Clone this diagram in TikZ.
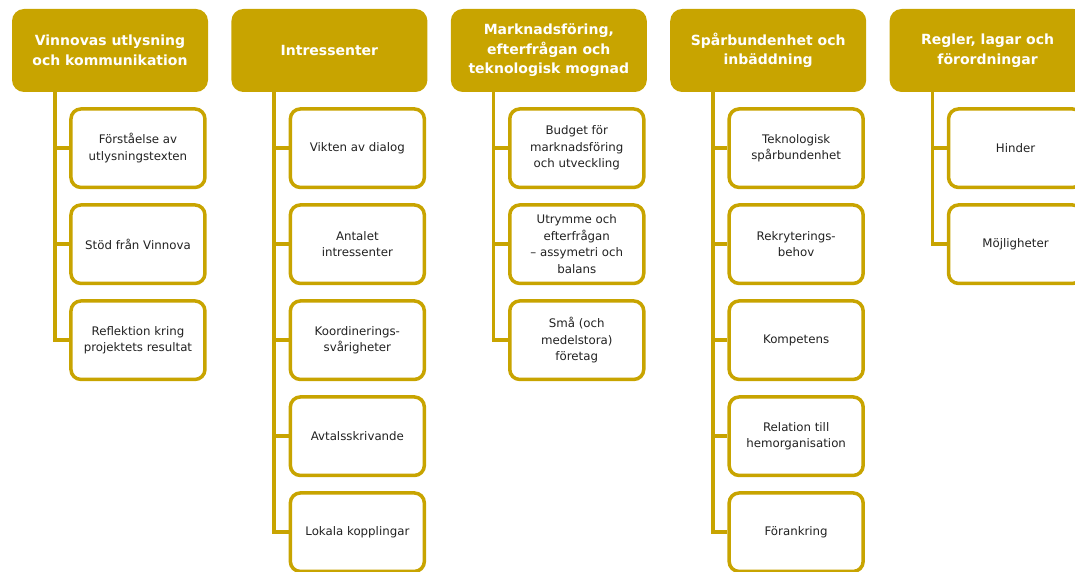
\documentclass[tikz,border=0pt]{standalone}
\usepackage{fontspec}
\setmainfont{DejaVu Sans}
\usetikzlibrary{positioning}
\definecolor{gold}{RGB}{200,164,0}
\definecolor{textgray}{RGB}{34,34,34}

\begin{document}
\begin{tikzpicture}[x=1pt, y=1pt, node distance=14pt,
    head/.style={fill=gold, rounded corners=12pt, text=white, minimum width=196pt, minimum height=83pt,
        align=center, font=\fontsize{14}{19.5}\selectfont\bfseries},
    item/.style={draw=gold, line width=3.5pt, fill=white, rounded corners=10pt, minimum width=134pt,
        minimum height=78.5pt, align=center, text=textgray, font=\fontsize{11.8}{16.5}\selectfont},
    link/.style={draw=gold, line width=3.5pt}]
    \useasboundingbox (0,0) rectangle (1075,-572);
    \clip (0,0) rectangle (1075,-572);

    % Headers
    \node[head] (h1) at (110,-50.5) {Vinnovas utlysning\\och kommunikation};
    \node[head, right=23pt of h1] (h2) {Intressenter};
    \node[head, right=23pt of h2] (h3) {Marknadsföring,\\efterfrågan och\\teknologisk mognad};
    \node[head, right=23pt of h3] (h4) {Spårbundenhet och\\inbäddning};
    \node[head, right=23pt of h4] (h5) {Regler, lagar och\\förordningar};

    % Items
    \node[item, below=15pt of h1.south east, anchor=north east, xshift=-1.5pt] (a1) {Förståelse av\\utlysningstexten};
    \node[item, below=of a1] (a2) {Stöd från Vinnova};
    \node[item, below=of a2] (a3) {Reflektion kring\\projektets resultat};

    \node[item, below=15pt of h2.south east, anchor=north east, xshift=-1.5pt] (b1) {Vikten av dialog};
    \node[item, below=of b1] (b2) {Antalet\\intressenter};
    \node[item, below=of b2] (b3) {Koordinerings-\\svårigheter};
    \node[item, below=of b3] (b4) {Avtalsskrivande};
    \node[item, below=of b4] (b5) {Lokala kopplingar};

    \node[item, below=15pt of h3.south east, anchor=north east, xshift=-1.5pt] (c1) {Budget för\\marknadsföring\\och utveckling};
    \node[item, below=of c1] (c2) {Utrymme och\\efterfrågan\\– assymetri och\\balans};
    \node[item, below=of c2] (c3) {Små (och\\medelstora)\\företag};

    \node[item, below=15pt of h4.south east, anchor=north east, xshift=-1.5pt] (d1) {Teknologisk\\spårbundenhet};
    \node[item, below=of d1] (d2) {Rekryterings-\\behov};
    \node[item, below=of d2] (d3) {Kompetens};
    \node[item, below=of d3] (d4) {Relation till\\hemorganisation};
    \node[item, below=of d4] (d5) {Förankring};

    \node[item, below=15pt of h5.south east, anchor=north east, xshift=-1.5pt] (e1) {Hinder};
    \node[item, below=of e1] (e2) {Möjligheter};

    % Links
    \draw[link] ([xshift=43pt]h1.south west) |- (a1.west);
    \draw[link] ([xshift=43pt]h1.south west) |- (a2.west);
    \draw[link] ([xshift=43pt]h1.south west) |- (a3.west);

    \draw[link] ([xshift=43pt]h2.south west) |- (b1.west);
    \draw[link] ([xshift=43pt]h2.south west) |- (b2.west);
    \draw[link] ([xshift=43pt]h2.south west) |- (b3.west);
    \draw[link] ([xshift=43pt]h2.south west) |- (b4.west);
    \draw[link] ([xshift=43pt]h2.south west) |- (b5.west);

    \draw[link] ([xshift=43pt]h3.south west) |- (c1.west);
    \draw[link] ([xshift=43pt]h3.south west) |- (c2.west);
    \draw[link] ([xshift=43pt]h3.south west) |- (c3.west);

    \draw[link] ([xshift=43pt]h4.south west) |- (d1.west);
    \draw[link] ([xshift=43pt]h4.south west) |- (d2.west);
    \draw[link] ([xshift=43pt]h4.south west) |- (d3.west);
    \draw[link] ([xshift=43pt]h4.south west) |- (d4.west);
    \draw[link] ([xshift=43pt]h4.south west) |- (d5.west);

    \draw[link] ([xshift=43pt]h5.south west) |- (e1.west);
    \draw[link] ([xshift=43pt]h5.south west) |- (e2.west);
\end{tikzpicture}
\end{document}
